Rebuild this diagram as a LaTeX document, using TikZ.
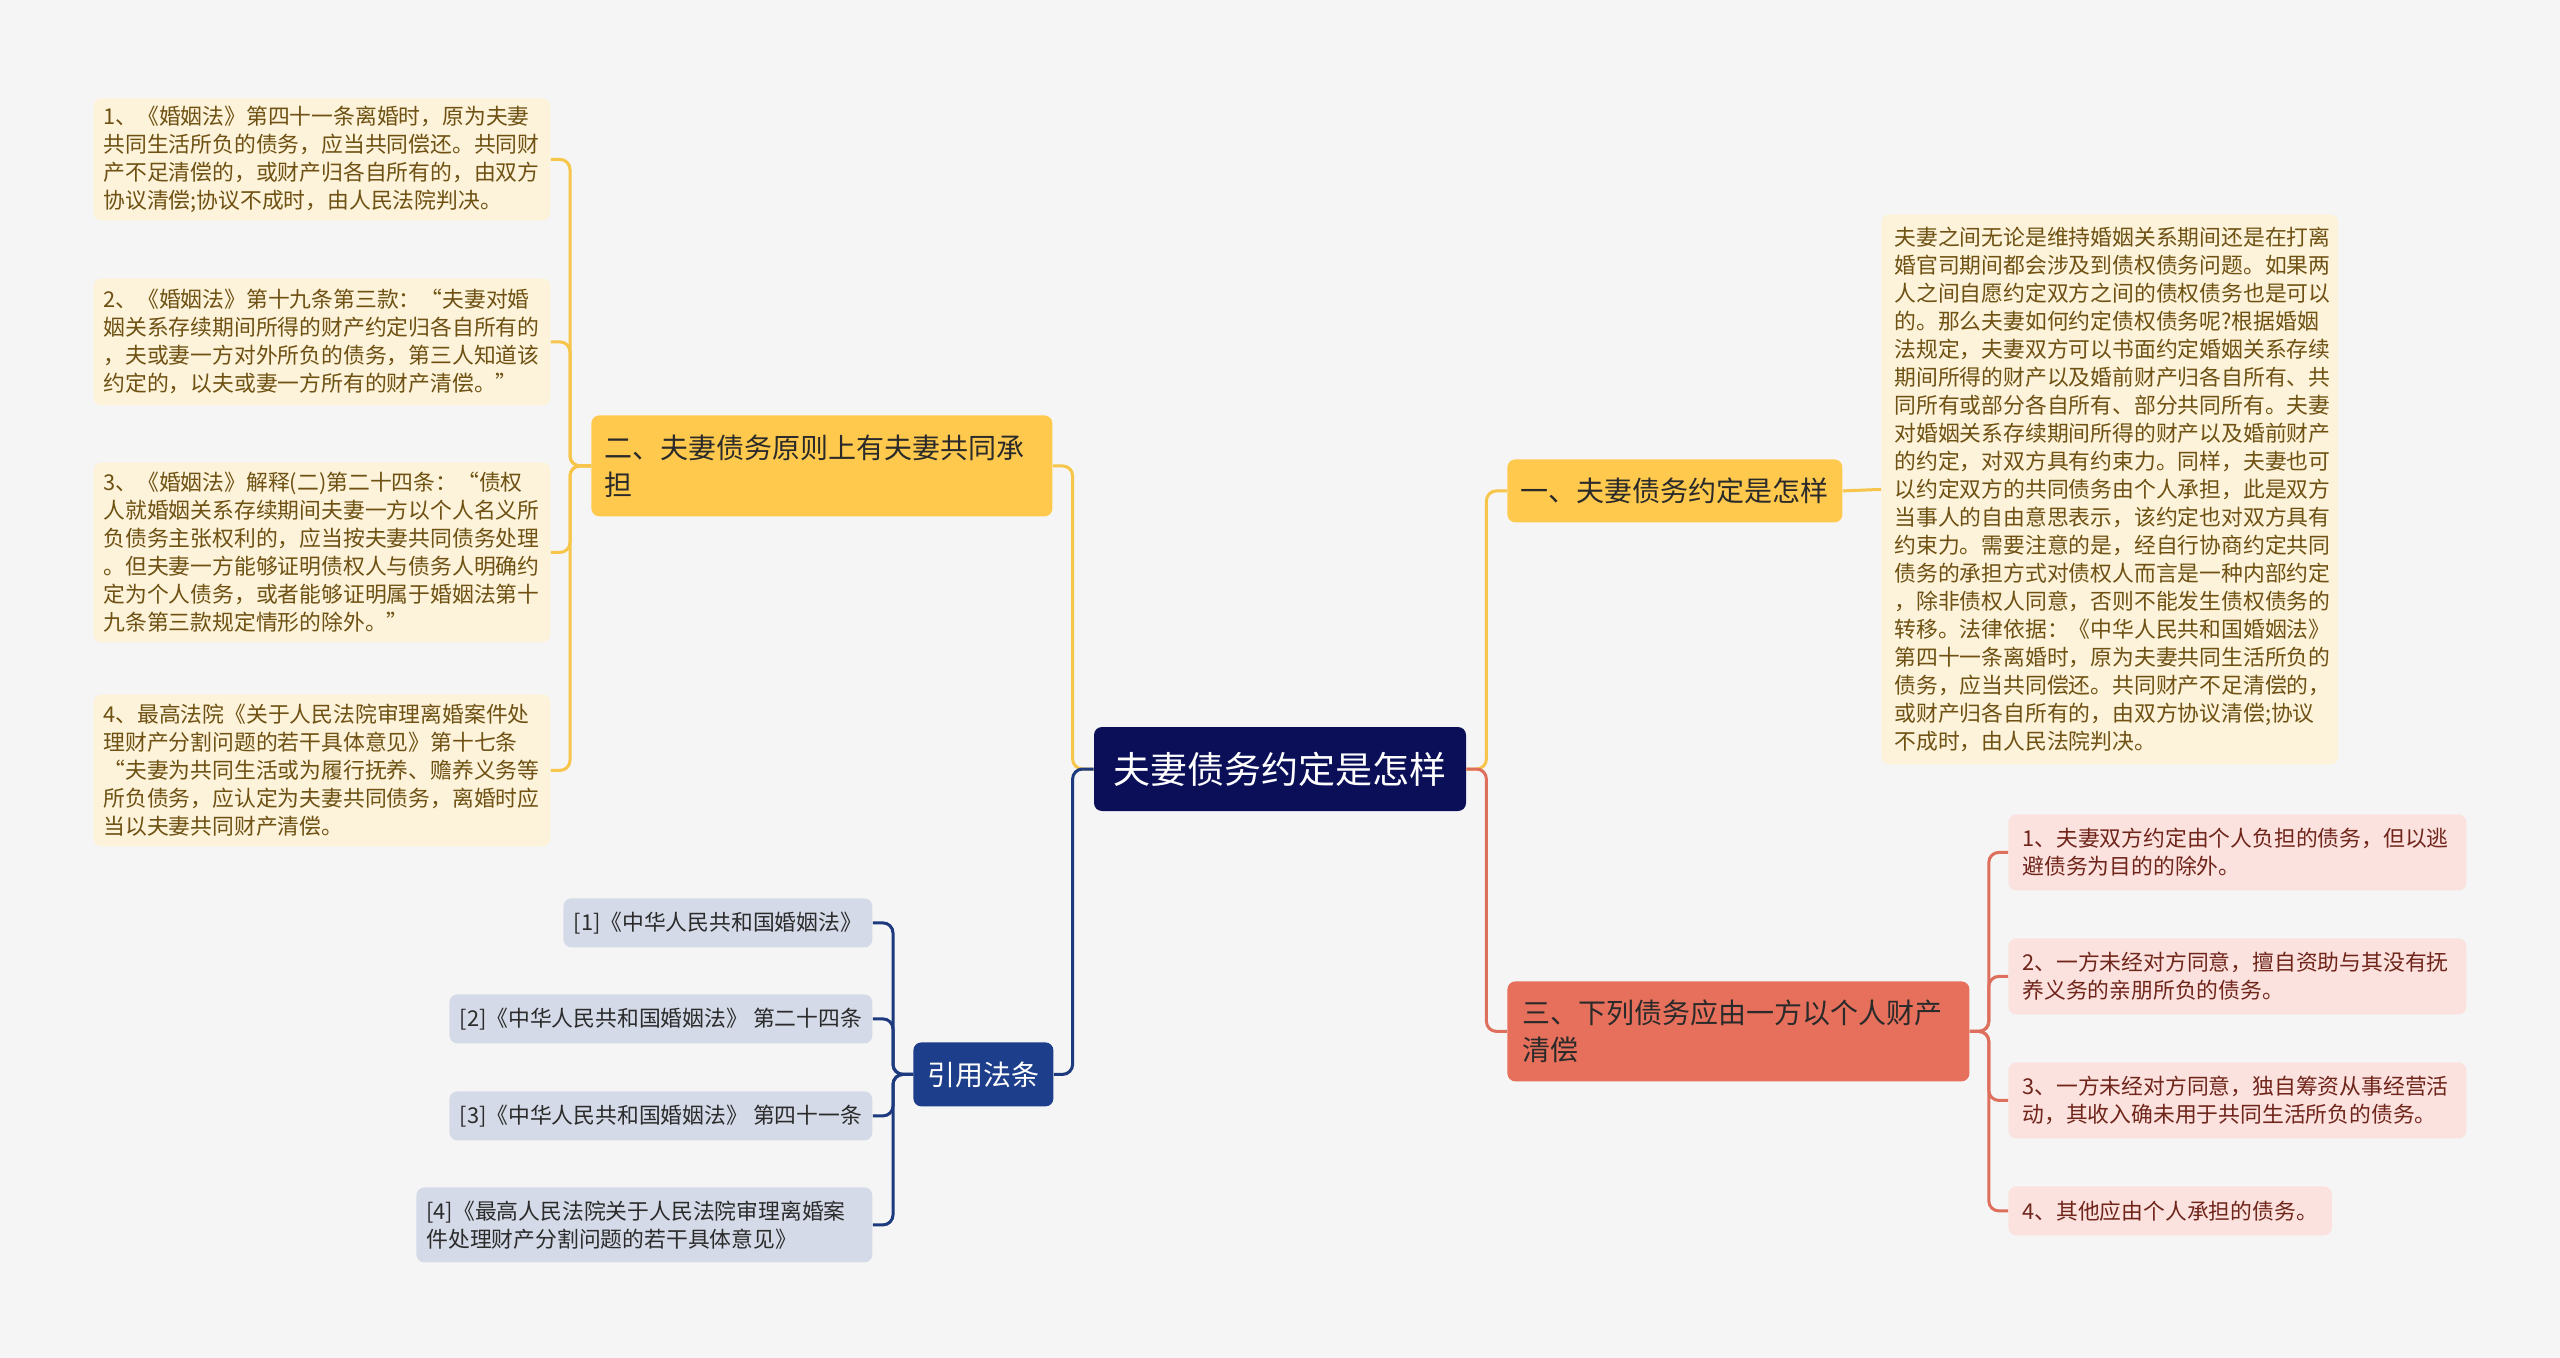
\documentclass[tikz,border=0pt]{standalone}
\usepackage{fontspec}
\setmainfont{Noto Sans CJK SC}
\definecolor{bg}{HTML}{F5F5F5}
\definecolor{navy}{HTML}{0A0F58}
\definecolor{ymain}{HTML}{FFC94D}
\definecolor{yline}{HTML}{F6C54A}
\definecolor{rmain}{HTML}{E6705B}
\definecolor{rline}{HTML}{DE6F5C}
\definecolor{bmain}{HTML}{1D3E8A}
\definecolor{bline}{HTML}{1D3A7E}
\definecolor{yfill}{HTML}{FDF3DA}
\definecolor{ytext}{HTML}{6E5113}
\definecolor{rfill}{HTML}{FBE2DE}
\definecolor{rtext}{HTML}{70251B}
\definecolor{cfill}{HTML}{D4DAE8}
\definecolor{ctext}{HTML}{2B2B2B}
\definecolor{dark}{HTML}{2A2A2A}
\begin{document}
\begin{tikzpicture}[x=0.5pt,y=-0.5pt,
  ctrbox/.style={fill=navy,text=white,font=\fontsize{18.5}{22}\selectfont,rounded corners=4pt,inner sep=0pt},
  mainY/.style={fill=ymain,text=dark,font=\fontsize{14}{18.5}\selectfont,rounded corners=4pt,align=left,inner ysep=0pt,anchor=north west},
  mainR/.style={fill=rmain,text=dark,font=\fontsize{14}{18.5}\selectfont,rounded corners=4pt,align=left,inner ysep=0pt,anchor=north west},
  mainB/.style={fill=bmain,text=white,font=\fontsize{14}{18.5}\selectfont,rounded corners=4pt,inner sep=0pt,anchor=north west},
  yleaf/.style={fill=yfill,text=ytext,font=\fontsize{10.9}{14}\selectfont,rounded corners=4pt,align=left,inner xsep=5pt,inner ysep=0pt,text width=218.5pt,minimum width=228.5pt,anchor=north west},
  rleaf/.style={fill=rfill,text=rtext,font=\fontsize{10.9}{14}\selectfont,rounded corners=4pt,align=left,inner xsep=7pt,inner ysep=0pt,anchor=north west},
  cleaf/.style={fill=cfill,text=ctext,font=\fontsize{10.9}{14}\selectfont,rounded corners=4pt,align=left,inner xsep=5pt,inner ysep=0pt,anchor=north west},
  conn/.style={line width=1.5pt,rounded corners=5pt},
  yl/.style={conn,draw=yline},
  rl/.style={conn,draw=rline},
  bl/.style={conn,draw=bline}
]
\fill[bg] (0,0) rectangle (2560,1358);
\useasboundingbox (0,0) rectangle (2560,1358);

% central
\node[ctrbox,minimum width=186pt,minimum height=42pt] (ctr) at (1280,769) {夫妻债务约定是怎样};

% main branches
\node[mainY,minimum width=230.5pt,minimum height=50.5pt,text width=217.5pt,inner xsep=6.5pt] (two) at (591,415) {二、夫妻债务原则上有夫妻共同承\\担};
\node[mainY,minimum width=167.5pt,minimum height=31.5pt,inner xsep=6pt] (one) at (1507,459) {一、夫妻债务约定是怎样};
\node[mainR,minimum width=231pt,minimum height=50pt,text width=216pt,inner xsep=7.5pt] (three) at (1507,981) {三、下列债务应由一方以个人财产\\清偿};
\node[mainB,minimum width=70pt,minimum height=32pt] (cite) at (913,1042) {引用法条};

% left leaves
\node[yleaf,minimum height=61pt] (l1) at (93,98) {1、《婚姻法》第四十一条离婚时，原为夫妻\\共同生活所负的债务，应当共同偿还。共同财\\产不足清偿的，或财产归各自所有的，由双方\\协议清偿;协议不成时，由人民法院判决。};
\node[yleaf,minimum height=63.5pt] (l2) at (93,278) {2、《婚姻法》第十九条第三款：“夫妻对婚\\姻关系存续期间所得的财产约定归各自所有的\\，夫或妻一方对外所负的债务，第三人知道该\\约定的，以夫或妻一方所有的财产清偿。”};
\node[yleaf,minimum height=90pt] (l3) at (93,462) {3、《婚姻法》解释(二)第二十四条：“债权\\人就婚姻关系存续期间夫妻一方以个人名义所\\负债务主张权利的，应当按夫妻共同债务处理\\。但夫妻一方能够证明债权人与债务人明确约\\定为个人债务，或者能够证明属于婚姻法第十\\九条第三款规定情形的除外。”};
\node[yleaf,minimum height=76pt] (l4) at (93,694) {4、最高法院《关于人民法院审理离婚案件处\\理财产分割问题的若干具体意见》第十七条\\ “夫妻为共同生活或为履行抚养、赡养义务等\\所负债务，应认定为夫妻共同债务，离婚时应\\当以夫妻共同财产清偿。};

% right big leaf
\node[yleaf,minimum height=275pt,inner xsep=6.5pt,text width=215.5pt] (r0) at (1881,214) {夫妻之间无论是维持婚姻关系期间还是在打离\\婚官司期间都会涉及到债权债务问题。如果两\\人之间自愿约定双方之间的债权债务也是可以\\的。那么夫妻如何约定债权债务呢?根据婚姻\\法规定，夫妻双方可以书面约定婚姻关系存续\\期间所得的财产以及婚前财产归各自所有、共\\同所有或部分各自所有、部分共同所有。夫妻\\对婚姻关系存续期间所得的财产以及婚前财产\\的约定，对双方具有约束力。同样，夫妻也可\\以约定双方的共同债务由个人承担，此是双方\\当事人的自由意思表示，该约定也对双方具有\\约束力。需要注意的是，经自行协商约定共同\\债务的承担方式对债权人而言是一种内部约定\\，除非债权人同意，否则不能发生债权债务的\\转移。法律依据：《中华人民共和国婚姻法》\\第四十一条离婚时，原为夫妻共同生活所负的\\债务，应当共同偿还。共同财产不足清偿的，\\或财产归各自所有的，由双方协议清偿;协议\\不成时，由人民法院判决。};

% red leaves
\node[rleaf,minimum width=229pt,text width=215pt,minimum height=38pt] (r1) at (2008,814) {1、夫妻双方约定由个人负担的债务，但以逃\\避债务为目的的除外。};
\node[rleaf,minimum width=229pt,text width=215pt,minimum height=38pt] (r2) at (2008,938) {2、一方未经对方同意，擅自资助与其没有抚\\养义务的亲朋所负的债务。};
\node[rleaf,minimum width=229pt,text width=215pt,minimum height=38pt] (r3) at (2008,1062) {3、一方未经对方同意，独自筹资从事经营活\\动，其收入确未用于共同生活所负的债务。};
\node[rleaf,minimum width=159.5pt,minimum height=24.5pt] (r4) at (2008,1186) {4、其他应由个人承担的债务。};

% citation leaves
\node[cleaf,minimum width=154.5pt,minimum height=24.5pt] (c1) at (563,898) {[1]《中华人民共和国婚姻法》};
\node[cleaf,minimum width=211.5pt,minimum height=24.5pt] (c2) at (449,994) {[2]《中华人民共和国婚姻法》 第二十四条};
\node[cleaf,minimum width=211.5pt,minimum height=24.5pt] (c3) at (449,1091) {[3]《中华人民共和国婚姻法》 第四十一条};
\node[cleaf,minimum width=228pt,minimum height=37.5pt,text width=218pt] (c4) at (416,1187) {[4]《最高人民法院关于人民法院审理离婚案\\件处理财产分割问题的若干具体意见》};

% connectors: center to branches
\draw[yl] (ctr.west) -- ++(-21,0) |- (two.east);
\draw[bl] (ctr.west) -- ++(-21,0) |- (cite.east);
\draw[yl] (ctr.east) -- ++(20,0) |- (one.west);
\draw[rl] (ctr.east) -- ++(20,0) |- (three.west);

% branch two to leaves
\draw[yl] (two.west) -- ++(-21,0) |- (l1.east);
\draw[yl] (two.west) -- ++(-21,0) |- (l2.east);
\draw[yl] (two.west) -- ++(-21,0) |- (l3.east);
\draw[yl] (two.west) -- ++(-21,0) |- (l4.east);

% branch one to big leaf
\draw[yl] (one.east) -- (r0.west);

% branch three to leaves
\draw[rl] (three.east) -- ++(19,0) |- (r1.west);
\draw[rl] (three.east) -- ++(19,0) |- (r2.west);
\draw[rl] (three.east) -- ++(19,0) |- (r3.west);
\draw[rl] (three.east) -- ++(19,0) |- (r4.west);

% citations
\draw[bl] (cite.west) -- ++(-20,0) |- (c1.east);
\draw[bl] (cite.west) -- ++(-20,0) |- (c2.east);
\draw[bl] (cite.west) -- ++(-20,0) |- (c3.east);
\draw[bl] (cite.west) -- ++(-20,0) |- (c4.east);
\end{tikzpicture}
\end{document}
